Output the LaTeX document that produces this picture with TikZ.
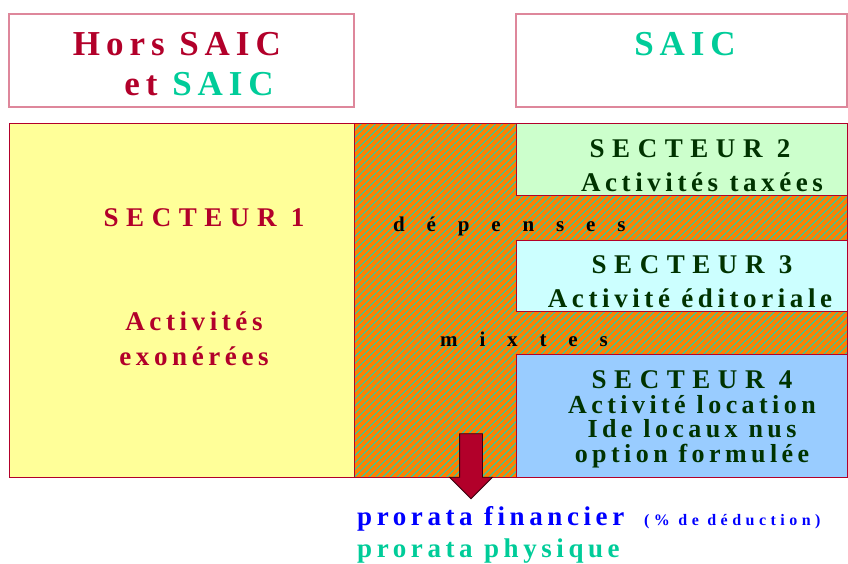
\documentclass[tikz,border=0pt]{standalone}
\usepackage{fontspec}
\setmainfont{Liberation Serif}
\newfontfamily\spaced{Liberation Serif}[LetterSpace=17]
\newfontfamily\widespaced{Liberation Serif}[LetterSpace=28]
\newfontfamily\veryspaced{Liberation Serif}[LetterSpace=104]
\usetikzlibrary{patterns.meta,shapes.arrows}

\definecolor{crimson}{RGB}{178,0,42}
\definecolor{saicgreen}{RGB}{0,204,153}
\definecolor{darkgreen}{RGB}{0,51,0}
\definecolor{pinkline}{RGB}{222,135,155}
\definecolor{yellowbox}{RGB}{255,255,153}
\definecolor{greenbox}{RGB}{204,255,204}
\definecolor{cyanbox}{RGB}{204,255,255}
\definecolor{bluebox}{RGB}{153,204,255}
\definecolor{mixorange}{RGB}{255,128,0}
\definecolor{mixstripe}{RGB}{51,204,153}

\tikzset{
  titlebox/.style={draw=pinkline, line width=1.5pt, inner sep=0pt, outer sep=0pt},
  sector/.style={draw=crimson, line width=0.8pt, inner sep=0pt, outer sep=0pt},
  label/.style={anchor=base, inner sep=0pt, font=\bfseries\spaced\fontsize{27}{35}\selectfont},
  head/.style={anchor=base, inner sep=0pt, font=\bfseries\widespaced\fontsize{27}{35}\selectfont},
}

\begin{document}
\begin{tikzpicture}[x=1pt,y=-1pt]
\useasboundingbox (0,0) rectangle (848,563);

% title boxes
\node[titlebox, minimum width=345pt, minimum height=93pt] (hors) at (181.5,60.5) {};
\node[titlebox, minimum width=331pt, minimum height=93pt] (saic) at (681.5,60.5) {};
\node[anchor=base east, inner sep=0pt, align=right, text=crimson,
      font=\bfseries\spaced\fontsize{35}{40}\selectfont] (horstext) at (281,95)
      {Hors SAIC\\et \textcolor{saicgreen}{SAIC}\hspace*{7pt}};
\node[anchor=base, inner sep=0pt, text=saicgreen,
      font=\bfseries\spaced\fontsize{35}{40}\selectfont] (saictext) at (685,55) {SAIC};

% sectors
\node[sector, fill=yellowbox, minimum width=345pt, minimum height=354pt] (s1) at (181.5,300) {};
\node[sector, preaction={fill=mixorange},
      pattern={Lines[angle=45,distance=5pt,line width=1.1pt]}, pattern color=mixstripe,
      minimum width=493pt, minimum height=354pt] (mixed) at (600.5,300) {};
\node[sector, fill=greenbox, minimum width=331pt, minimum height=72pt] (s2) at (681.5,159) {};
\node[sector, fill=cyanbox, minimum width=331pt, minimum height=71pt] (s3) at (681.5,275.5) {};
\node[sector, fill=bluebox, minimum width=331pt, minimum height=123pt] (s4) at (681.5,415.5) {};

% sector texts
\node[head, text=crimson] (s1title) at (204,226) {SECTEUR 1};
\node[label, text=crimson, align=center] (s1text) at (194,365) {Activités\\exonérées};
\node[head, text=darkgreen] (s2title) at (690,157) {SECTEUR 2};
\node[label, text=darkgreen] (s2text) at (702,191) {Activités taxées};
\node[head, text=darkgreen] (s3title) at (692,273) {SECTEUR 3};
\node[label, text=darkgreen] (s3text) at (690,307) {Activité éditoriale};
\node[head, text=darkgreen] (s4title) at (692,388) {SECTEUR 4};
\node[label, text=darkgreen, align=center, font=\bfseries\spaced\fontsize{26}{24.5}\selectfont]
      (s4text) at (692,462) {Activité location\\Ide locaux nus\\option formulée};

% mixed expenses
\node[anchor=base west, inner sep=0pt, font=\bfseries\veryspaced\fontsize{21}{25}\selectfont] (dep) at (393,231) {dépenses};
\node[anchor=base west, inner sep=0pt, font=\bfseries\veryspaced\fontsize{21}{25}\selectfont] (mix) at (440,346) {mixtes};

% arrow and prorata
\node[single arrow, rotate=-90, fill=crimson, draw=black!70!crimson, line width=0.8pt,
      inner sep=0pt, text height=11pt, text depth=11pt, minimum height=65pt,
      minimum width=42pt, single arrow head extend=10pt]
      (arrow) at (471,460.5) {};
\node[anchor=base west, inner sep=0pt, text=blue, font=\bfseries\spaced\fontsize{27}{30}\selectfont]
      (fin) at (357,525) {prorata financier {\fontsize{16}{18}\selectfont\widespaced\bfseries\ (\% de déduction)}};
\node[anchor=base west, inner sep=0pt, text=saicgreen, font=\bfseries\spaced\fontsize{27}{30}\selectfont]
      (phy) at (357,557) {prorata physique};
\end{tikzpicture}
\end{document}
